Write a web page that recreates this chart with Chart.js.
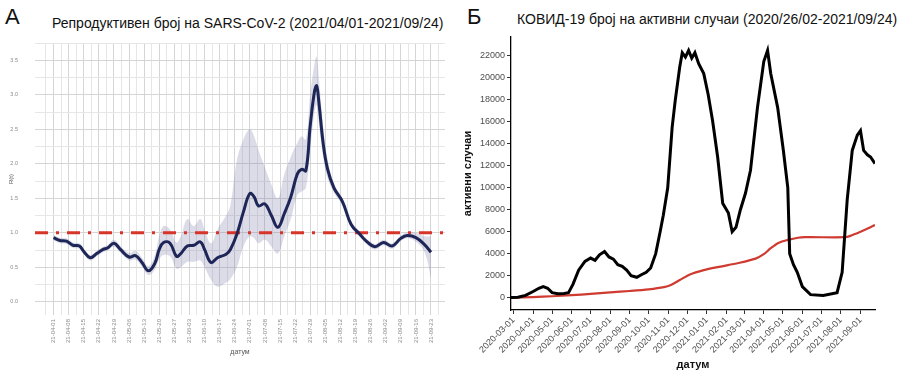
<!DOCTYPE html>
<html>
<head>
<meta charset="utf-8">
<script src="https://cdn.jsdelivr.net/npm/chart.js@4.4.0/dist/chart.umd.min.js"></script>
<style>
    html, body { margin: 0; padding: 0; background: #fff; }
    body { width: 902px; height: 384px; position: relative; overflow: hidden; font-family: "Liberation Sans", Arial, sans-serif; }
    .box { position: absolute; top: 0; height: 384px; }
    .letter { position: absolute; font-size: 22px; line-height: 22px; color: #111; }
    .title { position: absolute; font-size: 14px; line-height: 14px; color: #111; white-space: nowrap; }
</style>
</head>
<body>
<div class="letter" style="left:5px;top:6px">A</div>
<div class="title" style="left:52px;top:16px">Репродуктивен број на SARS-CoV-2 (2021/04/01-2021/09/24)</div>
<div class="letter" style="left:467px;top:6px">Б</div>
<div class="title" style="left:517px;top:12px">КОВИД-19 број на активни случаи (2020/26/02-2021/09/24)</div>
<div class="box" style="left:0;width:450px"><canvas id="chartA"></canvas></div>
<div class="box" style="left:450px;width:452px"><canvas id="chartB"></canvas></div>
<script>
// ---- panel A: R(t) ----
const rDates = ['2021-04-01', '2021-04-04', '2021-04-07', '2021-04-10', '2021-04-13', '2021-04-15', '2021-04-18',
    '2021-04-21', '2021-04-24', '2021-04-26', '2021-04-29', '2021-05-02', '2021-05-06', '2021-05-09', '2021-05-12',
    '2021-05-15', '2021-05-18', '2021-05-20', '2021-05-22', '2021-05-25', '2021-05-28', '2021-05-30', '2021-06-02',
    '2021-06-05', '2021-06-08', '2021-06-10', '2021-06-13', '2021-06-16', '2021-06-20', '2021-06-22', '2021-06-25',
    '2021-06-28', '2021-07-01', '2021-07-03', '2021-07-05', '2021-07-08', '2021-07-11', '2021-07-14', '2021-07-17',
    '2021-07-20', '2021-07-23', '2021-07-25', '2021-07-27', '2021-07-29', '2021-07-31', '2021-08-01', '2021-08-02',
    '2021-08-04', '2021-08-06', '2021-08-09', '2021-08-13', '2021-08-17', '2021-08-21', '2021-08-24', '2021-08-28',
    '2021-09-01', '2021-09-05', '2021-09-09', '2021-09-12', '2021-09-16', '2021-09-20', '2021-09-23'];
const rMean = [0.93, 0.89, 0.88, 0.82, 0.81, 0.73, 0.64, 0.70, 0.76, 0.78, 0.85, 0.76, 0.65, 0.67, 0.57,
    0.45, 0.56, 0.76, 0.86, 0.85, 0.66, 0.70, 0.81, 0.82, 0.87, 0.76, 0.57, 0.64, 0.69, 0.76, 0.98,
    1.30, 1.57, 1.52, 1.39, 1.42, 1.25, 1.08, 1.28, 1.52, 1.85, 1.92, 1.90, 2.55, 3.05, 3.13, 2.90,
    2.30, 1.93, 1.65, 1.45, 1.12, 0.98, 0.88, 0.80, 0.86, 0.81, 0.92, 0.96, 0.93, 0.83, 0.72];
const rLow = [0.89, 0.85, 0.84, 0.78, 0.77, 0.69, 0.60, 0.66, 0.72, 0.74, 0.80, 0.71, 0.60, 0.61, 0.51,
    0.39, 0.47, 0.62, 0.68, 0.66, 0.48, 0.50, 0.58, 0.58, 0.60, 0.50, 0.32, 0.22, 0.28, 0.33, 0.50,
    0.80, 0.95, 0.92, 0.85, 0.90, 0.80, 0.70, 0.95, 1.20, 1.55, 1.60, 1.65, 2.20, 2.75, 2.85, 2.60,
    2.10, 1.80, 1.58, 1.40, 1.08, 0.94, 0.84, 0.76, 0.82, 0.77, 0.88, 0.92, 0.87, 0.72, 0.35];
const rHigh = [0.97, 0.93, 0.92, 0.86, 0.85, 0.77, 0.68, 0.74, 0.80, 0.82, 0.90, 0.81, 0.71, 0.74, 0.64,
    0.52, 0.68, 0.95, 1.10, 1.05, 0.86, 0.95, 1.20, 1.10, 1.20, 1.05, 0.85, 1.05, 1.25, 1.40, 2.05,
    2.35, 2.50, 2.40, 2.20, 1.95, 1.70, 1.50, 1.85, 2.10, 2.30, 2.40, 2.35, 3.00, 3.45, 3.55, 3.25,
    2.55, 2.08, 1.72, 1.50, 1.16, 1.02, 0.92, 0.84, 0.90, 0.85, 0.96, 1.01, 1.00, 0.95, 0.95];
const rThreshold = 1;
const rTickDates = ['2021-04-01', '2021-04-08', '2021-04-15', '2021-04-22', '2021-04-29', '2021-05-06',
    '2021-05-13', '2021-05-20', '2021-05-27', '2021-06-03', '2021-06-10', '2021-06-17', '2021-06-24',
    '2021-07-01', '2021-07-08', '2021-07-15', '2021-07-22', '2021-07-29', '2021-08-05', '2021-08-12',
    '2021-08-19', '2021-08-26', '2021-09-02', '2021-09-09', '2021-09-16', '2021-09-23'];
const rYTicks = [0, 0.25, 0.5, 0.75, 1, 1.25, 1.5, 1.75, 2, 2.25, 2.5, 2.75, 3, 3.25, 3.5, 3.75];

// ---- panel B: active cases ----
const activeDates = ['2020-02-26', '2020-03-08', '2020-03-20', '2020-04-01', '2020-04-10', '2020-04-17', '2020-04-24',
    '2020-05-01', '2020-05-10', '2020-05-20', '2020-05-27', '2020-06-03', '2020-06-12', '2020-06-22', '2020-07-01',
    '2020-07-08', '2020-07-15', '2020-07-23', '2020-07-30', '2020-08-06', '2020-08-13', '2020-08-20', '2020-08-27',
    '2020-09-03', '2020-09-12', '2020-09-20', '2020-09-27', '2020-10-04', '2020-10-12', '2020-10-19', '2020-10-24',
    '2020-10-31', '2020-11-07', '2020-11-12', '2020-11-19', '2020-11-23', '2020-11-28', '2020-12-03', '2020-12-08',
    '2020-12-13', '2020-12-19', '2020-12-27', '2021-01-03', '2021-01-10', '2021-01-18', '2021-01-26', '2021-02-04',
    '2021-02-10', '2021-02-16', '2021-02-23', '2021-03-03', '2021-03-11', '2021-03-22', '2021-04-01', '2021-04-07',
    '2021-04-12', '2021-04-23', '2021-05-02', '2021-05-09', '2021-05-12', '2021-05-18', '2021-05-24', '2021-06-01',
    '2021-06-14', '2021-07-04', '2021-07-26', '2021-08-03', '2021-08-11', '2021-08-19', '2021-08-27', '2021-09-01',
    '2021-09-06', '2021-09-12', '2021-09-17', '2021-09-24'];
const activeCases = [0, 30, 200, 550, 850, 1000, 850,
    450, 350, 380, 450, 1200, 2500, 3300, 3600,
    3400, 3900, 4200, 3700, 3500, 3000, 2850, 2500,
    2000, 1850, 2100, 2300, 2700, 4000, 6000, 7500,
    10000, 15500, 18000, 21000, 22300, 21900, 22500, 21800,
    22300, 21300, 20400, 18500, 16100, 12800, 8600, 7700,
    6000, 6400, 8000, 9500, 11600, 17300, 21500, 22500,
    20400, 17300, 13400, 10000, 4000, 3000, 2300, 1000,
    270, 200, 450, 2300, 8900, 13400, 14800, 15200,
    13400, 13000, 12800, 12200];
const trendDates = ['2020-02-26', '2020-04-01', '2020-05-01', '2020-06-01', '2020-07-01', '2020-08-01', '2020-09-01',
    '2020-10-01', '2020-10-25', '2020-11-05', '2020-11-19', '2020-12-05', '2020-12-27', '2021-01-20', '2021-02-20',
    '2021-03-19', '2021-04-01', '2021-04-12', '2021-04-25', '2021-05-09', '2021-05-25', '2021-06-05', '2021-08-08',
    '2021-08-15', '2021-09-01', '2021-09-24'];
const trendValues = [0, 50, 120, 220, 330, 480, 600,
    750, 950, 1150, 1600, 2100, 2500, 2800, 3150,
    3550, 3950, 4500, 5000, 5250, 5450, 5500, 5500,
    5600, 6000, 6600];
const monthTicks = ['2020-03-01', '2020-04-01', '2020-05-01', '2020-06-01', '2020-07-01', '2020-08-01', '2020-09-01',
    '2020-10-01', '2020-11-01', '2020-12-01', '2021-01-01', '2021-02-01', '2021-03-01', '2021-04-01', '2021-05-01',
    '2021-06-01', '2021-07-01', '2021-08-01', '2021-09-01'];
const activeYTicks = [0, 2000, 4000, 6000, 8000, 10000, 12000, 14000, 16000, 18000, 20000, 22000];

function dayNum(s) {
    const p = s.split('-').map(Number);
    return Date.UTC(p[0], p[1] - 1, p[2]) / 86400000;
}

function isoDate(day) {
    return new Date(Math.round(day) * 86400000).toISOString().slice(0, 10);
}

function points(dates, values) {
    return dates.map((d, i) => ({ x: dayNum(d), y: values[i] }));
}

const fontFamily = '"Liberation Sans", Arial, sans-serif';
Chart.defaults.font.family = fontFamily;
Chart.defaults.animation = false;

// panel A
const aMin = dayNum(rTickDates[0]) - 8.6;
const aMax = dayNum(rTickDates[rTickDates.length - 1]) + 6.5;
const majorDaysA = new Set(rTickDates.map(dayNum));
const xTicksA = [{ value: dayNum(rTickDates[0]) - 3.5 }];
rTickDates.forEach(d => {
    const v = dayNum(d);
    xTicksA.push({ value: v });
    if (v + 3.5 < aMax) xTicksA.push({ value: v + 3.5 });
});
const isHalf = v => Math.abs(v * 2 - Math.round(v * 2)) < 1e-6;

new Chart(document.getElementById('chartA'), {
    type: 'line',
    data: {
        datasets: [{
            data: points(rDates, rMean),
            borderColor: '#1d2657',
            borderWidth: 3,
            tension: 0.4,
            pointRadius: 0
        }, {
            data: [{ x: aMin, y: rThreshold }, { x: aMax, y: rThreshold }],
            borderColor: '#d7352a',
            borderWidth: 3,
            borderDash: [13, 8, 3, 8],
            pointRadius: 0
        }, {
            data: points(rDates, rHigh),
            borderWidth: 0,
            tension: 0.4,
            pointRadius: 0,
            fill: '+1',
            backgroundColor: 'rgba(128, 131, 172, 0.28)'
        }, {
            data: points(rDates, rLow),
            borderWidth: 0,
            tension: 0.4,
            pointRadius: 0
        }]
    },
    options: {
        responsive: true,
        maintainAspectRatio: false,
        layout: { padding: { top: 43, right: 5, left: 0, bottom: 0 } },
        plugins: { legend: { display: false }, tooltip: { enabled: false } },
        scales: {
            x: {
                type: 'linear',
                min: aMin,
                max: aMax,
                afterBuildTicks: scale => { scale.ticks = xTicksA.map(t => ({ value: t.value })); },
                afterFit: scale => { scale.height = 69; },
                border: { display: false },
                grid: {
                    drawTicks: false,
                    color: ctx => (ctx.tick && majorDaysA.has(ctx.tick.value)) ? '#d5d5d5' : '#e6e6e6'
                },
                ticks: {
                    autoSkip: false,
                    maxRotation: 90,
                    minRotation: 90,
                    padding: 4,
                    color: '#8a8a8a',
                    font: { size: 6 },
                    callback: v => majorDaysA.has(v) ? isoDate(v).slice(2) : ''
                },
                title: { display: true, text: 'датум', color: '#555', font: { size: 7 }, padding: { top: 0, bottom: 28 } }
            },
            y: {
                min: -0.19,
                max: 3.75,
                afterBuildTicks: scale => { scale.ticks = rYTicks.map(v => ({ value: v })); },
                afterFit: scale => { scale.width = 35; },
                border: { display: false },
                grid: {
                    drawTicks: false,
                    color: ctx => (ctx.tick && isHalf(ctx.tick.value)) ? '#d5d5d5' : '#e6e6e6'
                },
                ticks: {
                    padding: 17,
                    color: '#8a8a8a',
                    font: { size: 5.5 },
                    callback: v => isHalf(v) ? v.toFixed(1) : ''
                },
                title: { display: true, text: 'R(t)', color: '#555', font: { size: 6 }, padding: { top: 8, bottom: 0 } }
            }
        }
    }
});

// panel B
const bMin = dayNum(activeDates[0]);
const bMax = dayNum(activeDates[activeDates.length - 1]);

new Chart(document.getElementById('chartB'), {
    type: 'line',
    data: {
        datasets: [{
            data: points(activeDates, activeCases),
            borderColor: '#000',
            borderWidth: 3,
            tension: 0,
            pointRadius: 0
        }, {
            data: points(trendDates, trendValues),
            borderColor: '#cf3b30',
            borderWidth: 2.2,
            tension: 0.3,
            pointRadius: 0
        }]
    },
    options: {
        responsive: true,
        maintainAspectRatio: false,
        layout: { padding: { top: 37, right: 27, left: 0, bottom: 0 } },
        plugins: { legend: { display: false }, tooltip: { enabled: false } },
        scales: {
            x: {
                type: 'linear',
                min: bMin,
                max: bMax,
                afterBuildTicks: scale => { scale.ticks = monthTicks.map(d => ({ value: dayNum(d) })); },
                afterFit: scale => { scale.height = 74; },
                border: { display: true, color: '#000', width: 1.3 },
                grid: { drawOnChartArea: false, drawTicks: true, tickLength: 4, color: '#333' },
                ticks: {
                    autoSkip: false,
                    maxRotation: 45,
                    minRotation: 45,
                    padding: 1,
                    color: '#4d4d4d',
                    font: { size: 9 },
                    callback: v => isoDate(v)
                },
                title: { display: true, text: 'датум', color: '#111', font: { size: 11, weight: 'bold' }, padding: { top: 0, bottom: 12 } }
            },
            y: {
                min: -1130,
                max: 23730,
                afterBuildTicks: scale => { scale.ticks = activeYTicks.map(v => ({ value: v })); },
                afterFit: scale => { scale.width = 61; },
                border: { display: true, color: '#000', width: 1.3 },
                grid: { drawOnChartArea: false, drawTicks: true, tickLength: 4, color: '#333' },
                ticks: { padding: 2, color: '#4d4d4d', font: { size: 9 }, callback: v => String(v) },
                title: { display: true, text: 'активни случаи', color: '#111', font: { size: 11, weight: 'bold' }, padding: { top: 11, bottom: 0 } }
            }
        }
    }
});
</script>
</body>
</html>
